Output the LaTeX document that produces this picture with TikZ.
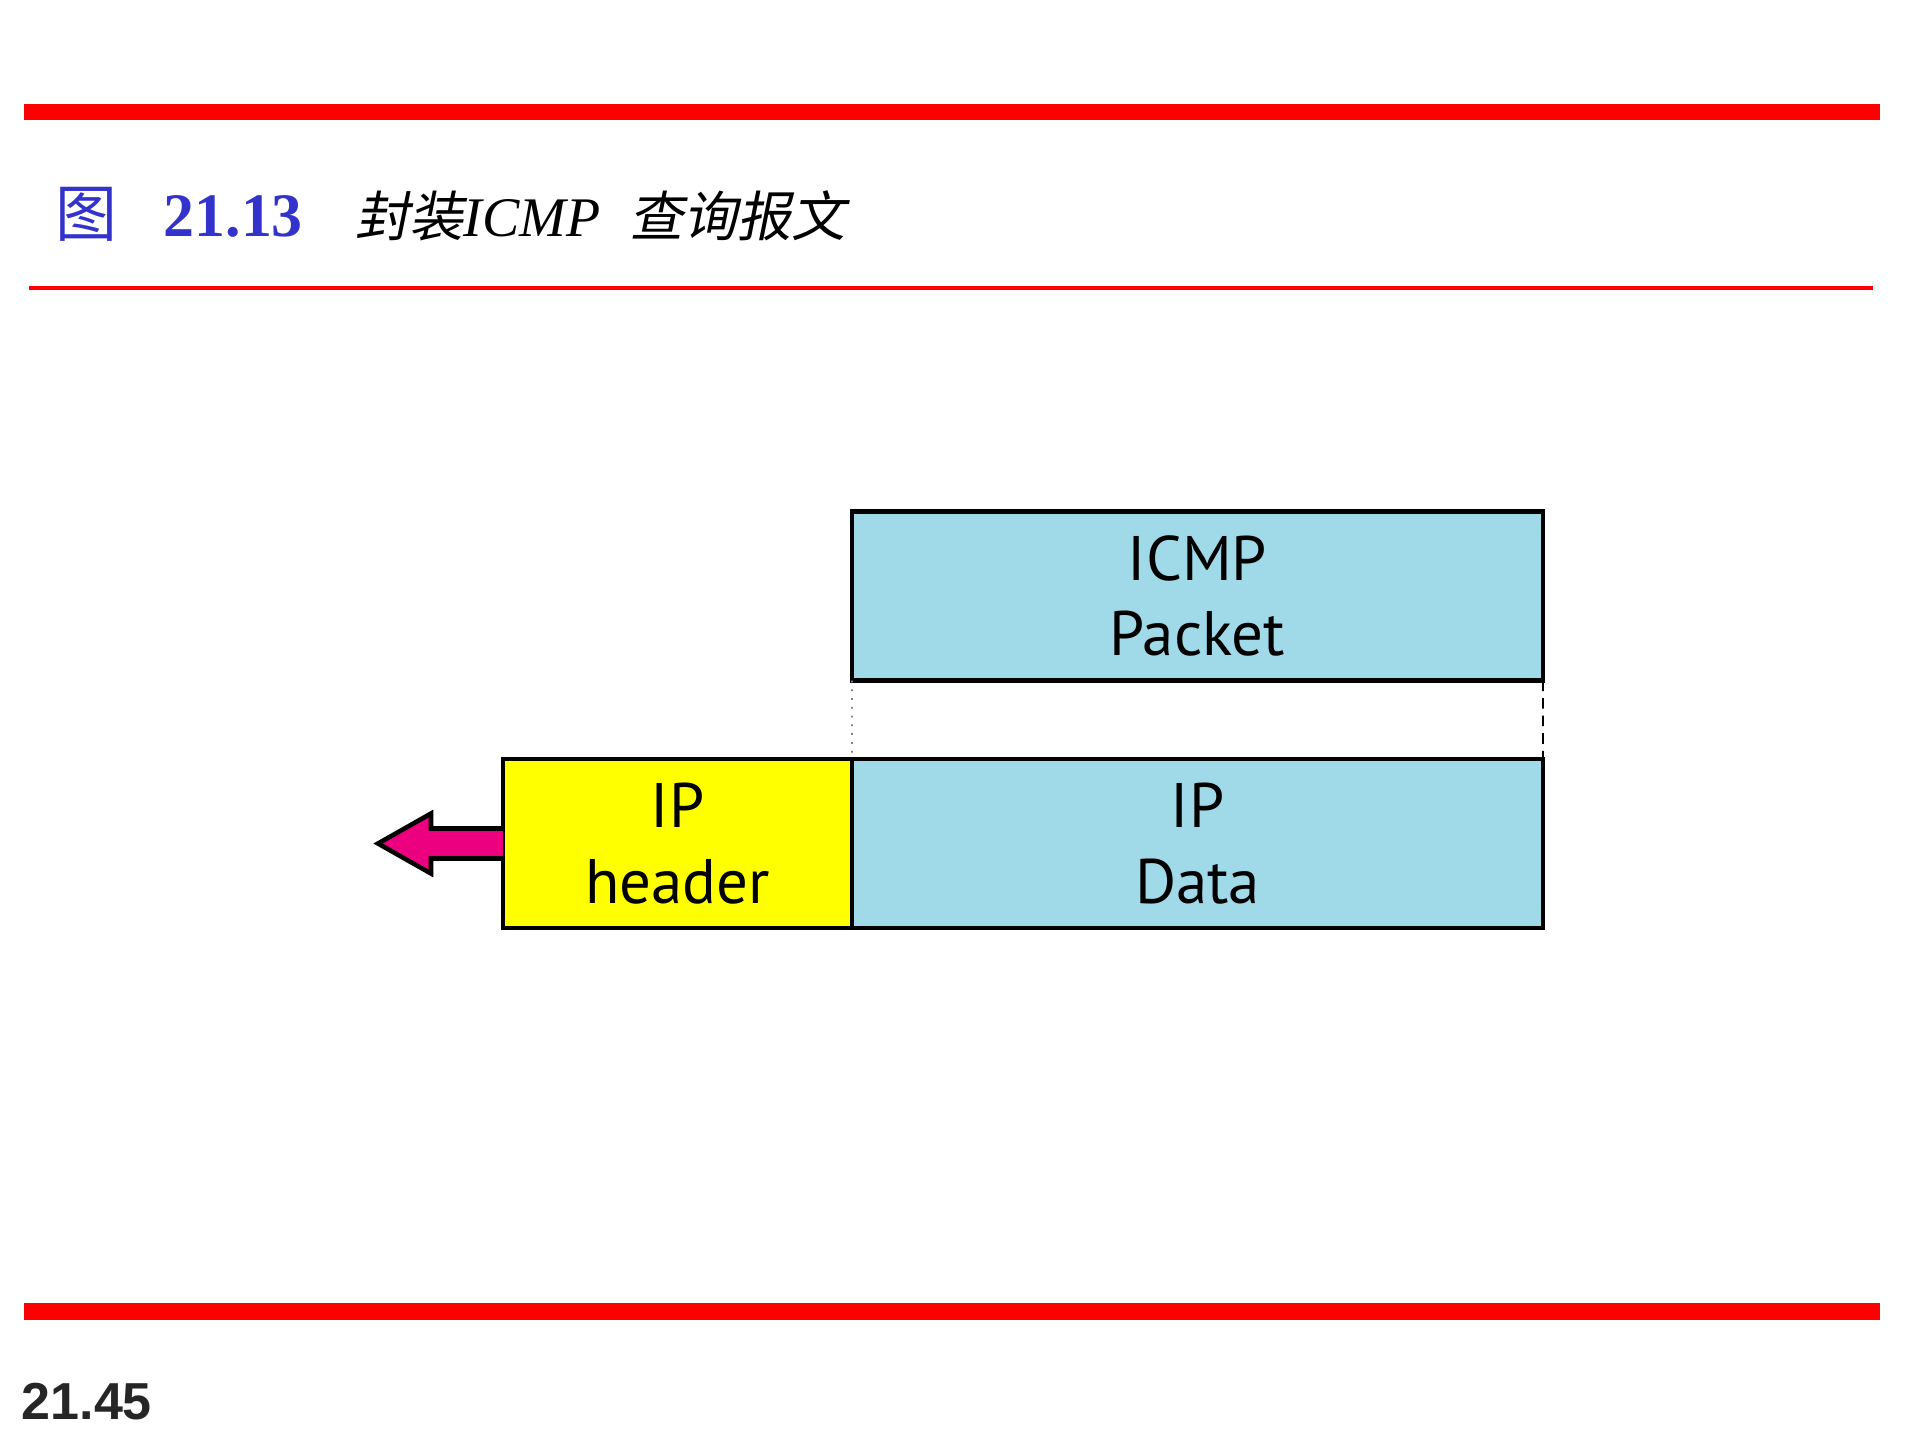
\documentclass[tikz,border=0pt]{standalone}
\usepackage{fontspec}
\setmainfont{Liberation Serif}
\newfontfamily\boxfont{PT Sans}
\newfontfamily\pagefont{Liberation Sans}
\newfontfamily\cjkup{Noto Sans CJK SC}
\newfontfamily\cjkit[FakeSlant=0.2]{Noto Sans CJK SC}
\usetikzlibrary{arrows.meta,positioning}
\definecolor{titleblue}{HTML}{3333CC}
\definecolor{pktblue}{HTML}{A0D9E8}
\definecolor{hdryellow}{HTML}{FFFF00}
\definecolor{arrowpink}{HTML}{EC0080}
\definecolor{barred}{HTML}{FF0000}
\tikzset{
  field/.style={draw=black,line width=1.2pt,outer sep=0pt,inner sep=0pt,
    minimum height=1.69cm,align=center,font=\boxfont\fontsize{17.9}{21.6}\selectfont},
  fatarrow/.style={draw=black,line width=1.3pt,fill=arrowpink,line join=miter}
}
\begin{document}
\begin{tikzpicture}[>=Stealth]
\useasboundingbox (0,0) rectangle (19.2,-14.4);
% red bars
\draw[barred,line width=4.55pt] (0.24,-1.12)--(18.80,-1.12);
\draw[barred,line width=1.1pt] (0.29,-2.88)--(18.73,-2.88);
\draw[barred,line width=4.8pt] (0.24,-13.115)--(18.80,-13.115);
% title
\node[anchor=base west,inner sep=0pt,text=titleblue,font=\cjkup\fontsize{17.6}{20}\selectfont] (fig) at (0.55,-2.36) {图};
\node[anchor=base west,inner sep=0pt,text=titleblue,font=\bfseries\fontsize{17.6}{20}\selectfont] (num) at (1.63,-2.36) {21.13};
\node[anchor=base west,inner sep=0pt,font=\fontsize{15.4}{18}\selectfont] (caption) at (3.55,-2.36)
 {{\cjkit 封装}{\fontsize{15.9}{18}\selectfont\itshape ICMP}\hspace{0.29cm}{\cjkit 查询报文}};
% packets
\node[field,fill=pktblue,minimum width=6.91cm] (icmp) at (11.975,-5.96) {ICMP\\Packet};
\node[field,fill=hdryellow,minimum width=3.49cm] (hdr) at (6.775,-8.435) {IP\\header};
\node[field,fill=pktblue,minimum width=6.91cm,right=0pt of hdr] (ipdata) {IP\\Data};
\draw[gray,line width=0.5pt,dotted] (icmp.south west)--(ipdata.north west);
\draw[black,line width=0.45pt,dash pattern=on 3pt off 2pt] (icmp.south east)--(ipdata.north east);
% outgoing arrow
\draw[fatarrow] (hdr.west) ++(0,0.15) -- ++(-0.72,0) -- ++(0,0.15) -- ++(-0.53,-0.30)
  -- ++(0.53,-0.30) -- ++(0,0.15) -- ++(0.72,0);
% page number
\node[anchor=base west,inner sep=0pt,text=black!85,font=\pagefont\bfseries\fontsize{14.8}{17}\selectfont] (page) at (0.21,-14.19) {21.45};
\end{tikzpicture}
\end{document}
